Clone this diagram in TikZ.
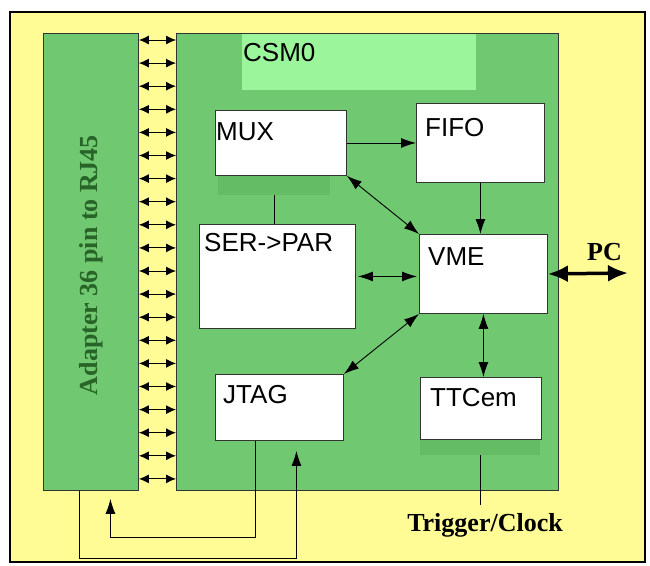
\documentclass[tikz,border=0pt]{standalone}
\usepackage{fontspec}
\setmainfont{Liberation Serif}
\setsansfont{Liberation Sans}
\usetikzlibrary{arrows.meta}

\definecolor{bgyellow}{RGB}{255,252,150}
\definecolor{boardgreen}{RGB}{112,200,112}
\definecolor{headgreen}{RGB}{155,245,155}
\definecolor{shadegreen}{RGB}{100,188,100}
\definecolor{textgreen}{RGB}{40,100,40}

\tikzset{
  board/.style={draw=black!80, line width=0.9pt, fill=boardgreen, anchor=north west, inner sep=0},
  blk/.style={draw=black!80, line width=0.9pt, fill=white, anchor=north west, inner sep=0},
  shade/.style={fill=shadegreen, anchor=north west, inner sep=0},
  lbl/.style={anchor=north west, inner sep=0, font=\sffamily\fontsize{26}{30}\selectfont},
  tag/.style={inner sep=0, font=\bfseries\fontsize{26}{30}\selectfont},
  pinarr/.style={{Latex[length=10pt,width=9pt]}-{Latex[length=10pt,width=9pt]}, line width=1pt},
  arr/.style={-{Latex[length=15pt,width=10pt]}, line width=0.9pt},
  darr/.style={{Latex[length=15pt,width=10pt]}-{Latex[length=15pt,width=10pt]}, line width=0.9pt},
  bigarr/.style={{Latex[length=20pt,width=17pt]}-{Latex[length=20pt,width=17pt]}, line width=3.5pt}
}

\begin{document}
\begin{tikzpicture}[x=1pt,y=-1pt]
\useasboundingbox (0,0) rectangle (650,565);
\draw[line width=2.5pt, fill=bgyellow] (10,12) rectangle (645,562);

% boards
\node[board, minimum width=95, minimum height=457] (adapter) at (43,33) {};
\node[board, minimum width=382, minimum height=457] (csm) at (176,33) {};
\fill[headgreen] (242,34) rectangle (476,90);
\node[lbl] (csmlbl) at (243,43) {CSM0};
\node[tag, rotate=90, text=textgreen] (adaptlbl) at (91,265) {Adapter 36 pin to RJ45};

% pins
\foreach \i [evaluate=\i as \dy using 7+23.1*\i] in {0,...,19}
  \draw[pinarr] ([yshift=-\dy]adapter.north east) -- ([yshift=-\dy]csm.north west);

% blocks
\node[shade, minimum width=112, minimum height=20] (muxsh) at (218,175) {};
\node[shade, minimum width=120, minimum height=16] (ttcsh) at (420,439) {};
\node[blk, minimum width=131, minimum height=65] (mux) at (215,110) {};
\node[blk, minimum width=128, minimum height=79] (fifo) at (416,103) {};
\node[blk, minimum width=156, minimum height=104] (serpar) at (199,224) {};
\node[blk, minimum width=128, minimum height=79] (vme) at (419,234) {};
\node[blk, minimum width=128, minimum height=66] (jtag) at (215,374) {};
\node[blk, minimum width=121, minimum height=62] (ttc) at (420,377) {};

\node[lbl] (muxlbl) at (216,122) {MUX};
\node[lbl] (fifolbl) at (425,118) {FIFO};
\node[lbl] (serlbl) at (204,233) {SER->PAR};
\node[lbl] (vmelbl) at (428,247) {VME};
\node[lbl] (jtaglbl) at (223,385) {JTAG};
\node[lbl] (ttclbl) at (430,388) {TTCem};

\node[tag, anchor=north west] (pclbl) at (587,243) {PC};
\node[tag, anchor=north, outer sep=8pt] (trig) at (485,505) {Trigger/Clock};
\coordinate (pcend) at (628,273);

% links
\draw[arr] (mux) -- (fifo);
\draw[darr] (mux.south east) -- (vme.north west);
\draw[arr] (fifo.south) -- (fifo.south |- vme.north);
\draw (muxsh.south) -- (muxsh.south |- serpar.north);
\draw[darr, shorten <=2pt, shorten >=2pt] (serpar.east) -- (serpar.east -| vme.west);
\draw[bigarr] (vme.east) -- (pcend);
\draw[darr] (vme.south west) -- (jtag.north east);
\draw[darr] (vme.south) -- (vme.south |- ttc.north);
\draw (ttcsh.south) -- (ttcsh.south |- trig.north);

% jtag loops
\draw[arr] ([xshift=-24]jtag.south) |- ([xshift=19.5,yshift=-47]adapter.south)
  -- ([xshift=19.5,yshift=-8]adapter.south);
\draw[arr] ([xshift=-11.5]adapter.south) |- ([xshift=17,yshift=-118]jtag.south)
  -- ([xshift=17,yshift=-10]jtag.south);
\end{tikzpicture}
\end{document}
